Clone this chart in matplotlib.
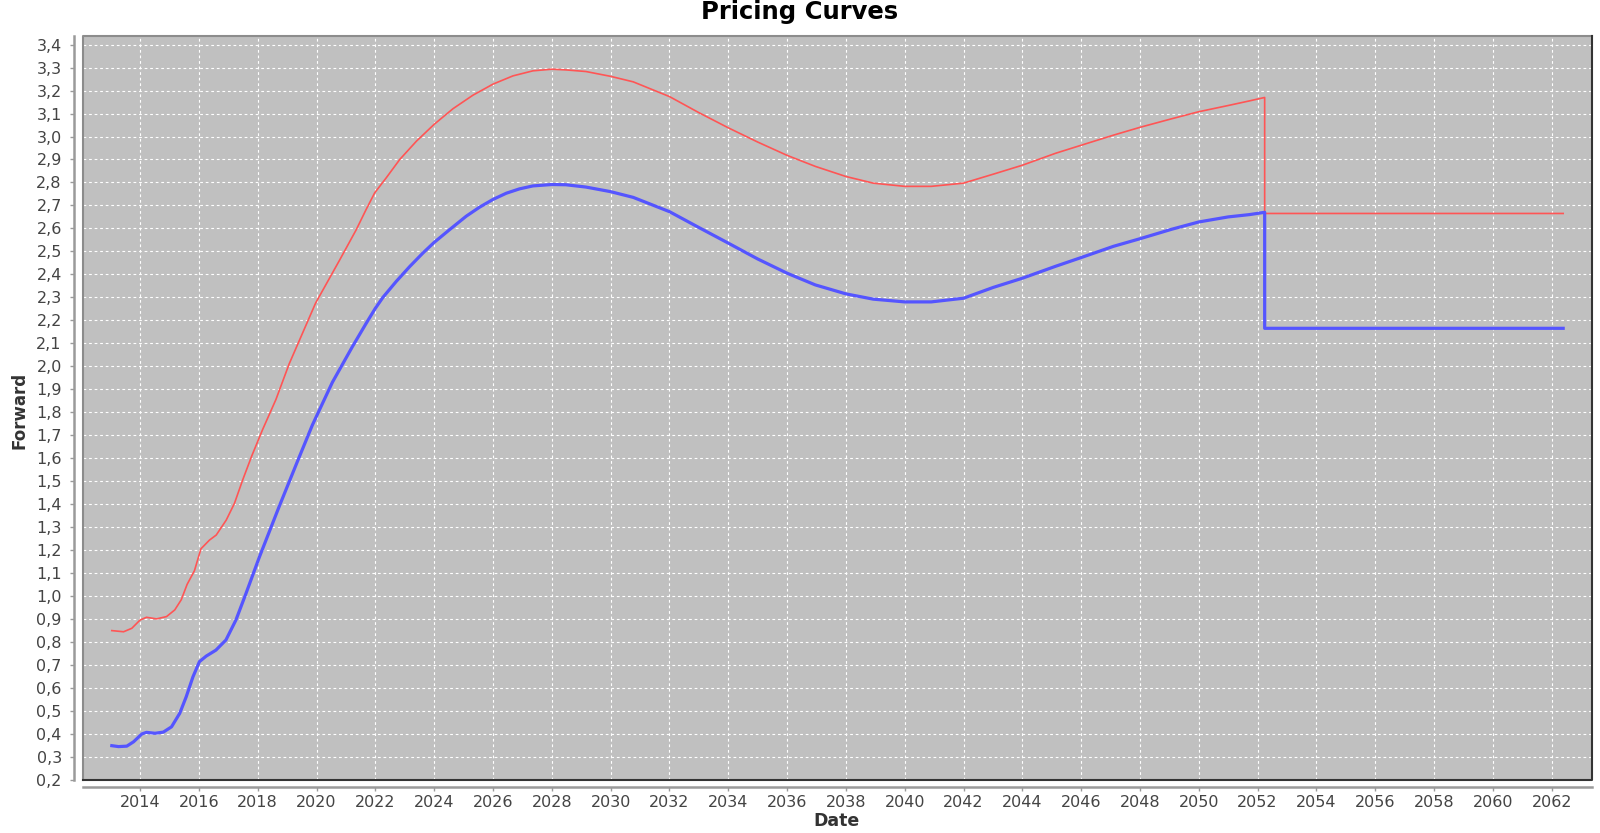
import matplotlib
matplotlib.use("Agg")
import matplotlib.pyplot as plt
import numpy as np

# values (year as decimal, forward level)
red_years = [2013.04, 2013.44, 2013.72, 2014.0, 2014.22, 2014.56, 2014.9, 2015.18,
             2015.4, 2015.6, 2015.85, 2016.07, 2016.36, 2016.59, 2016.93, 2017.21,
             2017.49, 2017.8, 2018.17, 2018.62, 2019.07, 2019.97, 2020.79, 2021.35,
             2021.69, 2021.98, 2022.37, 2022.83, 2023.4, 2024.0, 2024.64, 2025.32,
             2026.0, 2026.68, 2027.36, 2028.0, 2028.48, 2029.16, 2030.0, 2030.77,
             2032.0, 2033.0, 2034.0, 2035.0, 2036.0, 2036.96, 2038.0, 2038.93,
             2040.0, 2040.9, 2042.0, 2043.01, 2044.0, 2045.13, 2046.0, 2047.1,
             2048.0, 2049.07, 2050.0, 2051.0, 2051.72, 2052.24, 2052.24, 2062.39]
red_values = [0.849, 0.844, 0.859, 0.895, 0.907, 0.900, 0.910, 0.939,
              0.983, 1.050, 1.110, 1.205, 1.243, 1.265, 1.330, 1.403,
              1.505, 1.610, 1.725, 1.855, 2.010, 2.275, 2.463, 2.594,
              2.683, 2.755, 2.820, 2.900, 2.980, 3.053, 3.121, 3.180,
              3.228, 3.264, 3.286, 3.293, 3.290, 3.283, 3.262, 3.238,
              3.174, 3.104, 3.038, 2.976, 2.918, 2.870, 2.826, 2.797,
              2.783, 2.783, 2.797, 2.836, 2.875, 2.927, 2.962, 3.006,
              3.040, 3.077, 3.108, 3.135, 3.155, 3.170, 2.665, 2.665]

blue_years = [2013.04, 2013.27, 2013.55, 2013.78, 2014.06, 2014.22, 2014.51, 2014.79,
              2015.07, 2015.35, 2015.57, 2015.8, 2016.02, 2016.25, 2016.58, 2016.92,
              2017.26, 2017.6, 2018.06, 2018.73, 2019.35, 2019.86, 2020.54, 2021.22,
              2021.69, 2022.0, 2022.26, 2022.71, 2023.17, 2023.62, 2024.0, 2024.52,
              2025.09, 2025.54, 2026.0, 2026.45, 2026.9, 2027.36, 2028.0, 2028.48,
              2029.16, 2030.0, 2030.77, 2032.0, 2033.0, 2034.0, 2035.0, 2036.0,
              2036.96, 2038.0, 2038.93, 2040.0, 2040.9, 2042.0, 2043.01, 2044.0,
              2045.13, 2046.0, 2047.1, 2048.0, 2049.07, 2050.0, 2051.0, 2051.72,
              2052.24, 2052.24, 2062.39]
blue_values = [0.348, 0.344, 0.346, 0.365, 0.399, 0.406, 0.402, 0.407,
               0.430, 0.489, 0.561, 0.648, 0.714, 0.738, 0.764, 0.808,
               0.895, 1.010, 1.170, 1.389, 1.585, 1.744, 1.930, 2.085,
               2.187, 2.252, 2.300, 2.369, 2.434, 2.493, 2.539, 2.594,
               2.653, 2.692, 2.726, 2.753, 2.772, 2.785, 2.791, 2.790,
               2.780, 2.760, 2.735, 2.673, 2.604, 2.536, 2.467, 2.405,
               2.354, 2.315, 2.292, 2.280, 2.280, 2.296, 2.343, 2.383,
               2.435, 2.473, 2.522, 2.555, 2.596, 2.628, 2.650, 2.660,
               2.670, 2.165, 2.165]

year_ticks = list(range(2014, 2063, 2))
y_ticks = [round(0.2 + 0.1 * i, 1) for i in range(33)]

W, H = 1600, 833
fig = plt.figure(figsize=(16, 8.33), dpi=100)
fig.patch.set_facecolor("white")

# plot area in pixels: left 82.7, right 1591.7, top 36, bottom 780
ax = fig.add_axes([82.7 / W, 1 - 780 / H, (1591.7 - 82.7) / W, (780 - 36) / H])
ax.set_facecolor("#c0c0c0")

ax.plot(red_years, red_values, color="#ff5555", lw=1.2, zorder=3)
ax.plot(blue_years, blue_values, color="#5555ff", lw=2.3, zorder=4)

ax.set_xlim(2012.05, 2063.36)
ax.set_ylim(0.1986, 3.4376)

ax.set_xticks(year_ticks)
ax.set_xticklabels([str(y) for y in year_ticks])
ax.set_yticks(y_ticks)
ax.set_yticklabels([f"{v:.1f}".replace(".", ",") for v in y_ticks])

ax.grid(True, color="white", lw=0.8, linestyle=(0, (2.5, 2.5)))
ax.set_axisbelow(True)

for side in ["top", "right"]:
    ax.spines[side].set_visible(False)
ax.spines["left"].set_position(("outward", 6))
ax.spines["bottom"].set_position(("outward", 5))
for side in ["left", "bottom"]:
    ax.spines[side].set_color("#9a9a9a")
    ax.spines[side].set_linewidth(1.8)

ax.tick_params(axis="both", direction="out", length=3, width=1, color="#9a9a9a",
               labelsize=11.5, labelcolor="#444444")
ax.tick_params(axis="y", pad=6)
ax.tick_params(axis="x", pad=2.5)

# plot outline: grey on top/left, darker on bottom/right
ax.plot([0, 0, 1], [0, 1, 1], transform=ax.transAxes, color="#8c8c8c", lw=1.5,
        clip_on=False, zorder=5)
ax.plot([0, 1, 1], [0, 0, 1], transform=ax.transAxes, color="#333333", lw=1.5,
        clip_on=False, zorder=5)

fig.text(0.5, 1 - 12 / H, "Pricing Curves", ha="center", va="center",
         fontsize=17.5, fontweight="bold", color="black")
fig.text(837 / W, 1 - 821 / H, "Date", ha="center", va="center",
         fontsize=12.5, fontweight="bold", color="#333333")
fig.text(20 / W, 1 - 410 / H, "Forward", ha="center", va="center", rotation=90,
         fontsize=12, fontweight="bold", color="#333333")

fig.savefig("out.png", dpi=100, facecolor="white")
